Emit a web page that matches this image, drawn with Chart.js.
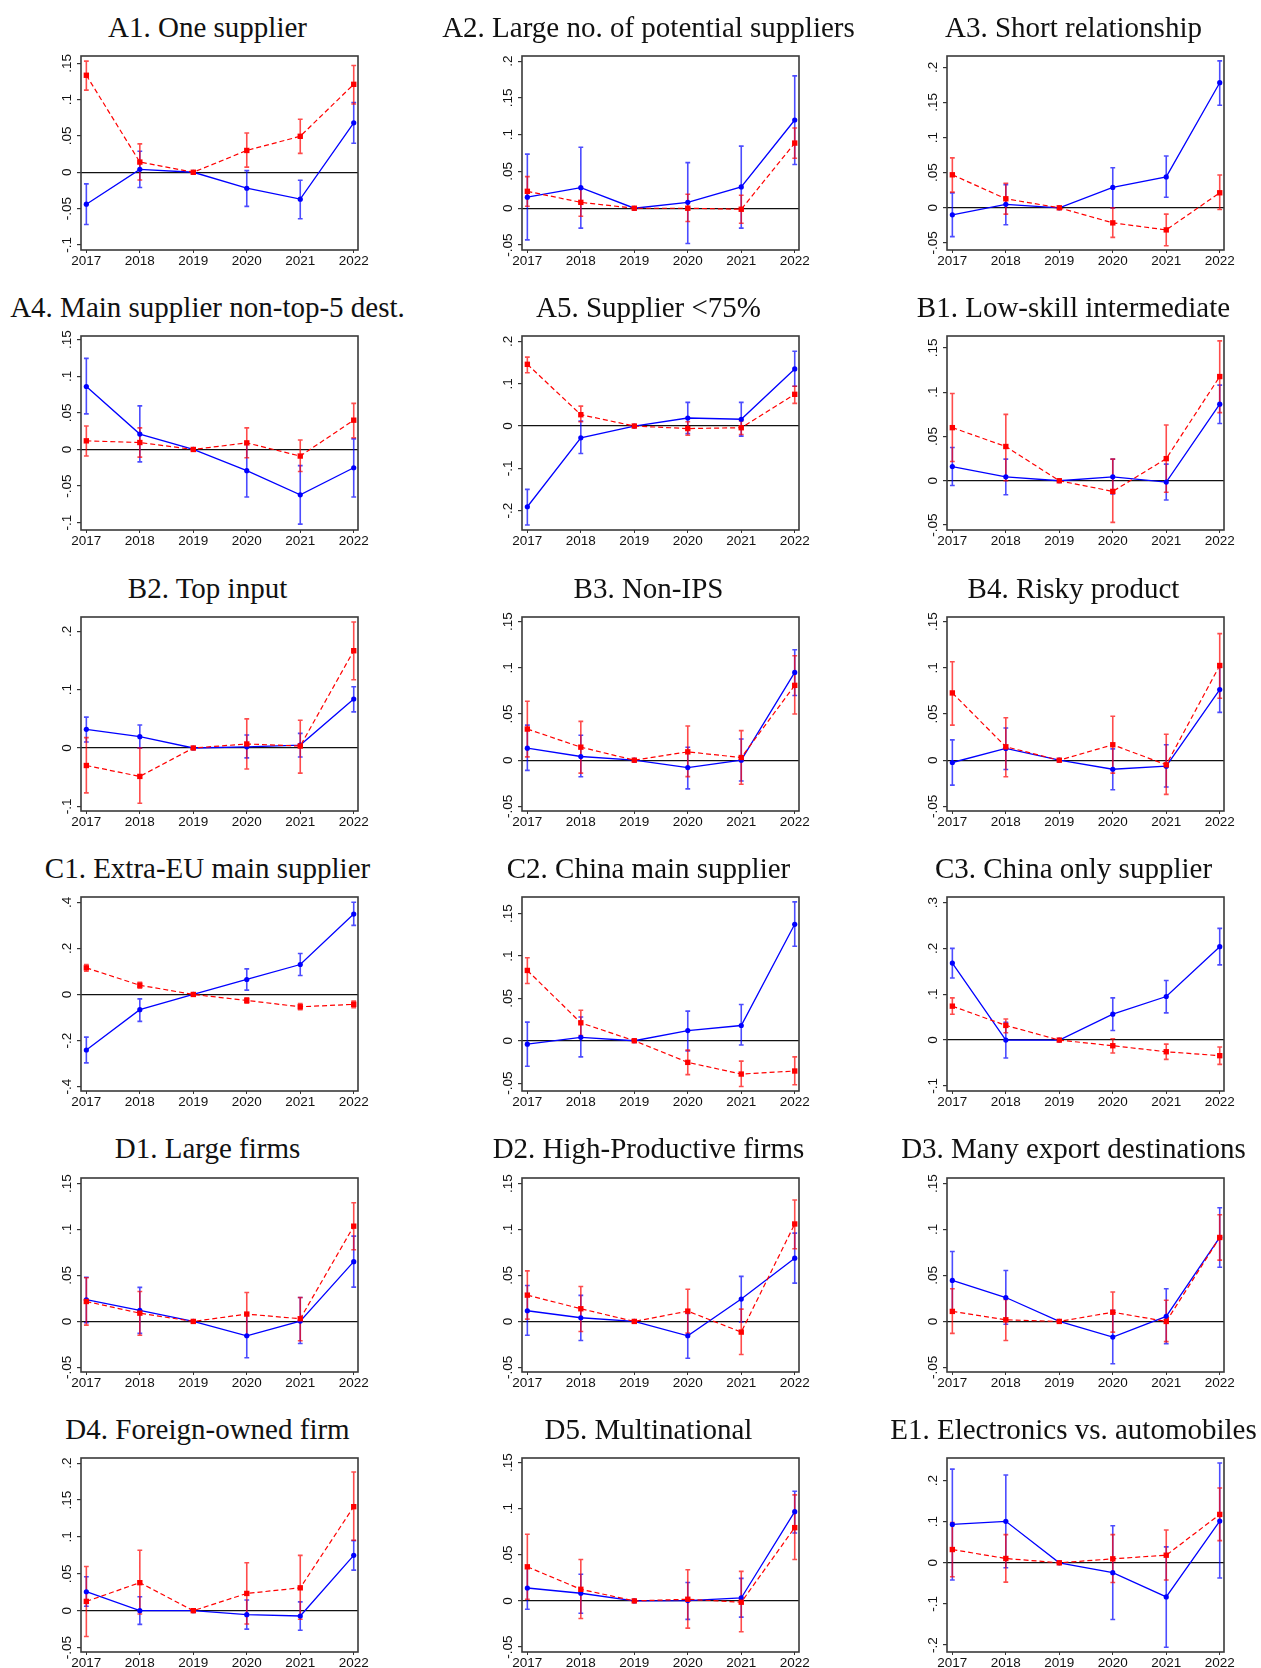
<!DOCTYPE html>
<html lang="en">
<head>
<meta charset="UTF-8" />
<title>Coefficient panels</title>
<script src="https://cdn.jsdelivr.net/npm/chart.js"></script>
<style>
  body { margin: 0; background: #fff; width: 1261px; height: 1668px; position: relative; overflow: hidden; }
  canvas { position: absolute; }
  .title { position: absolute; width: 600px; text-align: center; font-family: "Liberation Serif", serif; font-size: 29px; line-height: 29px; color: #111; white-space: nowrap; }
</style>
</head>
<body>
<script>
const years = [2017, 2018, 2019, 2020, 2021, 2022];

const titles = [
  "A1. One supplier", "A2. Large no. of potential suppliers", "A3. Short relationship",
  "A4. Main supplier non-top-5 dest.", "A5. Supplier <75%", "B1. Low-skill intermediate",
  "B2. Top input", "B3. Non-IPS", "B4. Risky product",
  "C1. Extra-EU main supplier", "C2. China main supplier", "C3. China only supplier",
  "D1. Large firms", "D2. High-Productive firms", "D3. Many export destinations",
  "D4. Foreign-owned firm", "D5. Multinational", "E1. Electronics vs. automobiles",
];

// blue series (solid line, circles)
const blue = [
  [-0.044, 0.004, 0, -0.022, -0.037, 0.068],
  [0.015, 0.028, 0, 0.008, 0.029, 0.12],
  [-0.010, 0.005, 0, 0.029, 0.044, 0.178],
  [0.086, 0.021, 0, -0.029, -0.062, -0.025],
  [-0.191, -0.028, 0, 0.019, 0.016, 0.135],
  [0.016, 0.0045, 0, 0.0045, -0.0015, 0.0865],
  [0.032, 0.0195, 0, 0.002, 0.005, 0.084],
  [0.013, 0.004, 0, -0.008, 0, 0.095],
  [-0.0025, 0.0127, 0, -0.0098, -0.0065, 0.0764],
  [-0.241, -0.066, 0, 0.065, 0.130, 0.349],
  [-0.004, 0.004, 0, 0.012, 0.018, 0.1375],
  [0.168, 0, 0, 0.0565, 0.095, 0.2036],
  [0.0236, 0.012, 0, -0.0156, 0.0004, 0.065],
  [0.0116, 0.004, 0, -0.0156, 0.0243, 0.0688],
  [0.0446, 0.026, 0, -0.017, 0.0054, 0.0913],
  [0.0257, 0, 0, -0.0054, -0.0072, 0.075],
  [0.014, 0.0083, 0, 0.0004, 0.0032, 0.0968],
  [0.0935, 0.101, 0, -0.024, -0.083, 0.1016],
];
const blueLo = [
  [-0.072, -0.021, null, -0.047, -0.064, 0.040],
  [-0.043, -0.027, null, -0.048, -0.027, 0.0595],
  [-0.041, -0.024, null, 0.0, 0.015, 0.146],
  [0.0486, -0.017, null, -0.065, -0.102, -0.065],
  [-0.234, -0.065, null, -0.018, -0.024, 0.094],
  [-0.0053, -0.0158, null, -0.015, -0.0218, 0.0647],
  [0.0103, 0, null, -0.017, -0.0155, 0.062],
  [-0.011, -0.018, null, -0.031, -0.0225, 0.070],
  [-0.027, -0.010, null, -0.032, -0.029, 0.0518],
  [-0.297, -0.117, null, 0.019, 0.082, 0.30],
  [-0.030, -0.019, null, -0.012, -0.005, 0.1115],
  [0.1355, -0.039, null, 0.021, 0.0594, 0.164],
  [-0.0014, -0.013, null, -0.0395, -0.024, 0.0373],
  [-0.015, -0.0207, null, -0.040, -0.0007, 0.0417],
  [0.0127, -0.003, null, -0.046, -0.0243, 0.059],
  [0.006, -0.0185, null, -0.025, -0.0266, 0.055],
  [-0.009, -0.0133, null, -0.020, -0.0176, 0.0737],
  [-0.042, -0.012, null, -0.138, -0.2056, -0.037],
];
const blueHi = [
  [-0.016, 0.029, null, 0.0023, -0.011, 0.096],
  [0.0736, 0.083, null, 0.062, 0.0845, 0.18],
  [0.021, 0.033, null, 0.057, 0.0738, 0.209],
  [0.1245, 0.0595, null, 0.008, -0.022, 0.0145],
  [-0.150, 0.0118, null, 0.056, 0.056, 0.177],
  [0.0376, 0.0244, null, 0.0244, 0.0188, 0.108],
  [0.053, 0.0395, null, 0.0223, 0.025, 0.105],
  [0.038, 0.027, null, 0.014, 0.023, 0.1196],
  [0.022, 0.0348, null, 0.0123, 0.0167, 0.1007],
  [-0.185, -0.019, null, 0.111, 0.178, 0.40],
  [0.022, 0.028, null, 0.035, 0.0428, 0.164],
  [0.20, 0.039, null, 0.092, 0.130, 0.2435],
  [0.048, 0.037, null, 0.009, 0.026, 0.0928],
  [0.039, 0.0283, null, 0.0087, 0.049, 0.096],
  [0.076, 0.0554, null, 0.012, 0.0355, 0.1236],
  [0.046, 0.019, null, 0.0144, 0.012, 0.095],
  [0.037, 0.029, null, 0.020, 0.0245, 0.119],
  [0.228, 0.2137, null, 0.0903, 0.0387, 0.243],
];

// red series (dashed line, squares)
const red = [
  [0.1335, 0.014, 0, 0.030, 0.0495, 0.121],
  [0.023, 0.008, 0, 0, -0.0014, 0.0886],
  [0.047, 0.0129, 0, -0.0214, -0.0314, 0.0214],
  [0.0118, 0.0095, 0, 0.009, -0.009, 0.040],
  [0.146, 0.0268, 0, -0.006, -0.004, 0.075],
  [0.060, 0.0387, 0, -0.012, 0.025, 0.1177],
  [-0.030, -0.0487, 0, 0.0069, 0.0034, 0.1668],
  [0.0337, 0.0141, 0, 0.009, 0.0029, 0.081],
  [0.0728, 0.0145, 0, 0.0167, -0.005, 0.1025],
  [0.1155, 0.040, 0, -0.026, -0.0534, -0.043],
  [0.083, 0.0212, 0, -0.0255, -0.0393, -0.0357],
  [0.074, 0.032, 0, -0.0123, -0.0254, -0.034],
  [0.0217, 0.009, 0, 0.008, 0.0029, 0.1036],
  [0.0286, 0.0138, 0, 0.0112, -0.0116, 0.106],
  [0.0109, 0.0018, 0, 0.010, 0, 0.0913],
  [0.0126, 0.038, 0, 0.0234, 0.031, 0.141],
  [0.037, 0.0126, 0, 0.0018, -0.0014, 0.0795],
  [0.0323, 0.0105, 0, 0.0097, 0.0185, 0.1177],
];
const redLo = [
  [0.113, -0.0106, null, 0.007, 0.026, 0.094],
  [0.0027, -0.011, null, -0.018, -0.0205, 0.068],
  [0.0224, -0.009, null, -0.042, -0.054, -0.0024],
  [-0.009, -0.0105, null, -0.0114, -0.030, 0.016],
  [0.126, 0.010, null, -0.022, -0.020, 0.0535],
  [0.0218, 0.0, null, -0.047, -0.013, 0.077],
  [-0.077, -0.0946, null, -0.036, -0.043, 0.117],
  [0.0036, -0.014, null, -0.0178, -0.026, 0.050],
  [0.038, -0.018, null, -0.014, -0.037, 0.067],
  [0.101, 0.027, null, -0.0375, -0.066, -0.058],
  [0.0676, 0.0063, null, -0.040, -0.054, -0.052],
  [0.0565, 0.016, null, -0.028, -0.042, -0.053],
  [-0.004, -0.015, null, -0.016, -0.021, 0.0779],
  [0.0025, -0.011, null, -0.0127, -0.036, 0.079],
  [-0.013, -0.0207, null, -0.0116, -0.022, 0.0667],
  [-0.035, -0.0045, null, -0.018, -0.0117, 0.0955],
  [0.0018, -0.019, null, -0.0295, -0.0335, 0.045],
  [-0.0339, -0.047, null, -0.048, -0.042, 0.054],
];
const redHi = [
  [0.153, 0.039, null, 0.054, 0.073, 0.147],
  [0.043, 0.028, null, 0.019, 0.0177, 0.109],
  [0.071, 0.035, null, 0.0, -0.009, 0.0467],
  [0.032, 0.0295, null, 0.0295, 0.013, 0.063],
  [0.163, 0.047, null, 0.010, 0.012, 0.094],
  [0.0985, 0.075, null, 0.0244, 0.063, 0.158],
  [0.0178, 0, null, 0.05, 0.0476, 0.216],
  [0.0638, 0.042, null, 0.037, 0.032, 0.113],
  [0.1065, 0.046, null, 0.0475, 0.028, 0.137],
  [0.13, 0.053, null, -0.0144, -0.039, -0.029],
  [0.098, 0.036, null, -0.011, -0.024, -0.019],
  [0.092, 0.046, null, 0.003, -0.0087, -0.015],
  [0.0475, 0.0326, null, 0.0315, 0.026, 0.129],
  [0.055, 0.038, null, 0.035, 0.0134, 0.132],
  [0.0355, 0.024, null, 0.032, 0.023, 0.116],
  [0.060, 0.082, null, 0.065, 0.075, 0.188],
  [0.0723, 0.045, null, 0.0338, 0.032, 0.115],
  [0.098, 0.0685, null, 0.0685, 0.080, 0.182],
];

// axis ranges and tick labels per panel
const yMin = [-0.107, -0.0568, -0.06, -0.11, -0.246, -0.0556, -0.108, -0.055, -0.055,
  -0.419, -0.0593, -0.111, -0.055, -0.055, -0.055, -0.056, -0.0554, -0.217];
const yMax = [0.160, 0.207, 0.216, 0.155, 0.213, 0.1635, 0.2246, 0.155, 0.155,
  0.423, 0.1697, 0.312, 0.156, 0.156, 0.156, 0.207, 0.155, 0.255];
const yTicks = [
  [-0.1, -0.05, 0, 0.05, 0.1, 0.15],
  [-0.05, 0, 0.05, 0.1, 0.15, 0.2],
  [-0.05, 0, 0.05, 0.1, 0.15, 0.2],
  [-0.1, -0.05, 0, 0.05, 0.1, 0.15],
  [-0.2, -0.1, 0, 0.1, 0.2],
  [-0.05, 0, 0.05, 0.1, 0.15],
  [-0.1, 0, 0.1, 0.2],
  [-0.05, 0, 0.05, 0.1, 0.15],
  [-0.05, 0, 0.05, 0.1, 0.15],
  [-0.4, -0.2, 0, 0.2, 0.4],
  [-0.05, 0, 0.05, 0.1, 0.15],
  [-0.1, 0, 0.1, 0.2, 0.3],
  [-0.05, 0, 0.05, 0.1, 0.15],
  [-0.05, 0, 0.05, 0.1, 0.15],
  [-0.05, 0, 0.05, 0.1, 0.15],
  [-0.05, 0, 0.05, 0.1, 0.15, 0.2],
  [-0.05, 0, 0.05, 0.1, 0.15],
  [-0.2, -0.1, 0, 0.1, 0.2],
];

// layout of the grid of panels
const colBoxLeft = [81, 522, 947];
const titleCenter = [207.5, 648.5, 1073.5];
const boxW = 277, boxH = 194;
const PAD_L = 60, PAD_T = 30, PAD_R = 20, PAD_B = 30, XAXIS_H = 20;
const tickFont = { family: "'Liberation Sans', Arial, sans-serif", size: 13.5 };

// Stata style labels: .15, -.05, 0
function stataLabel(v) {
  const s = String(Number(v.toFixed(3)));
  return s.replace(/^(-?)0\./, "$1.");
}

const measure = document.createElement("canvas").getContext("2d");
measure.font = `${tickFont.size}px ${tickFont.family}`;

titles.forEach((title, p) => {
  const row = Math.floor(p / 3), col = p % 3;
  const boxLeft = colBoxLeft[col];
  const boxTop = 56 + 280.4 * row;

  const t = document.createElement("div");
  t.className = "title";
  t.textContent = title;
  t.style.left = (titleCenter[col] - 300) + "px";
  t.style.top = (boxTop - 43.3) + "px";
  document.body.appendChild(t);

  const cv = document.createElement("canvas");
  cv.width = boxW + PAD_L + PAD_R;
  cv.height = boxH + PAD_T + PAD_B;
  cv.style.left = (boxLeft - PAD_L) + "px";
  cv.style.top = (boxTop - PAD_T) + "px";
  document.body.appendChild(cv);

  const widest = Math.max(...yTicks[p].map((v) => measure.measureText(stataLabel(v)).width));
  const yPad = 14 - 4 - widest / 2;

  const errorBars = {
    id: "errorBars" + p,
    beforeDatasetsDraw(chart) {
      const { ctx, scales: { x, y } } = chart;
      const sets = [
        [blueLo[p], blueHi[p], "rgba(0,0,255,0.7)"],
        [redLo[p], redHi[p], "rgba(255,0,0,0.7)"],
      ];
      ctx.save();
      ctx.lineWidth = 1.6;
      for (const [lo, hi, color] of sets) {
        ctx.strokeStyle = color;
        ctx.beginPath();
        years.forEach((yr, i) => {
          if (lo[i] === null) return;
          const px = x.getPixelForValue(yr);
          const p1 = y.getPixelForValue(lo[i]);
          const p2 = y.getPixelForValue(hi[i]);
          ctx.moveTo(px, p1); ctx.lineTo(px, p2);
          ctx.moveTo(px - 2.4, p1); ctx.lineTo(px + 2.4, p1);
          ctx.moveTo(px - 2.4, p2); ctx.lineTo(px + 2.4, p2);
        });
        ctx.stroke();
      }
      ctx.restore();
    },
    afterDraw(chart) {
      const { ctx, chartArea: a } = chart;
      ctx.save();
      ctx.strokeStyle = "#3a3a3a";
      ctx.lineWidth = 1.6;
      ctx.strokeRect(a.left, a.top, a.right - a.left, a.bottom - a.top);
      ctx.restore();
    },
  };

  new Chart(cv.getContext("2d"), {
    type: "line",
    data: {
      datasets: [
        {
          data: years.map((yr, i) => ({ x: yr, y: red[p][i] })),
          borderColor: "#ff0000",
          backgroundColor: "#ff0000",
          borderWidth: 1.2,
          borderDash: [5, 3],
          pointStyle: "rect",
          pointRadius: 3.8,
          pointBorderWidth: 0,
          tension: 0,
        },
        {
          data: years.map((yr, i) => ({ x: yr, y: blue[p][i] })),
          borderColor: "#0000ff",
          backgroundColor: "#0000ff",
          borderWidth: 1.3,
          pointStyle: "circle",
          pointRadius: 2.6,
          pointBorderWidth: 0,
          tension: 0,
        },
      ],
    },
    options: {
      responsive: false,
      animation: false,
      events: [],
      layout: { padding: { left: 0, top: PAD_T, right: PAD_R, bottom: PAD_B - XAXIS_H } },
      plugins: { legend: { display: false }, tooltip: { enabled: false } },
      scales: {
        x: {
          type: "linear",
          min: 2016.9,
          max: 2022.08,
          afterBuildTicks: (s) => { s.ticks = years.map((v) => ({ value: v })); },
          afterFit: (s) => { s.height = XAXIS_H; },
          border: { display: false },
          grid: { drawOnChartArea: false, drawTicks: true, tickLength: 3, tickColor: "#333" },
          ticks: {
            autoSkip: false, maxRotation: 0, padding: 0,
            color: "#111", font: tickFont,
            callback: (v) => String(v),
          },
        },
        y: {
          type: "linear",
          min: yMin[p],
          max: yMax[p],
          afterBuildTicks: (s) => { s.ticks = yTicks[p].map((v) => ({ value: v })); },
          afterFit: (s) => { s.width = PAD_L; },
          border: { display: false },
          grid: {
            drawTicks: true, tickLength: 4, tickColor: "#333", lineWidth: 1.2,
            color: (c) => (c.tick && Math.abs(c.tick.value) < 1e-9 ? "#111" : "rgba(0,0,0,0)"),
          },
          ticks: {
            autoSkip: false, minRotation: 90, maxRotation: 90, crossAlign: "center",
            padding: yPad, color: "#111", font: tickFont,
            callback: (v) => stataLabel(v),
          },
        },
      },
    },
    plugins: [errorBars],
  });
});
</script>
</body>
</html>
